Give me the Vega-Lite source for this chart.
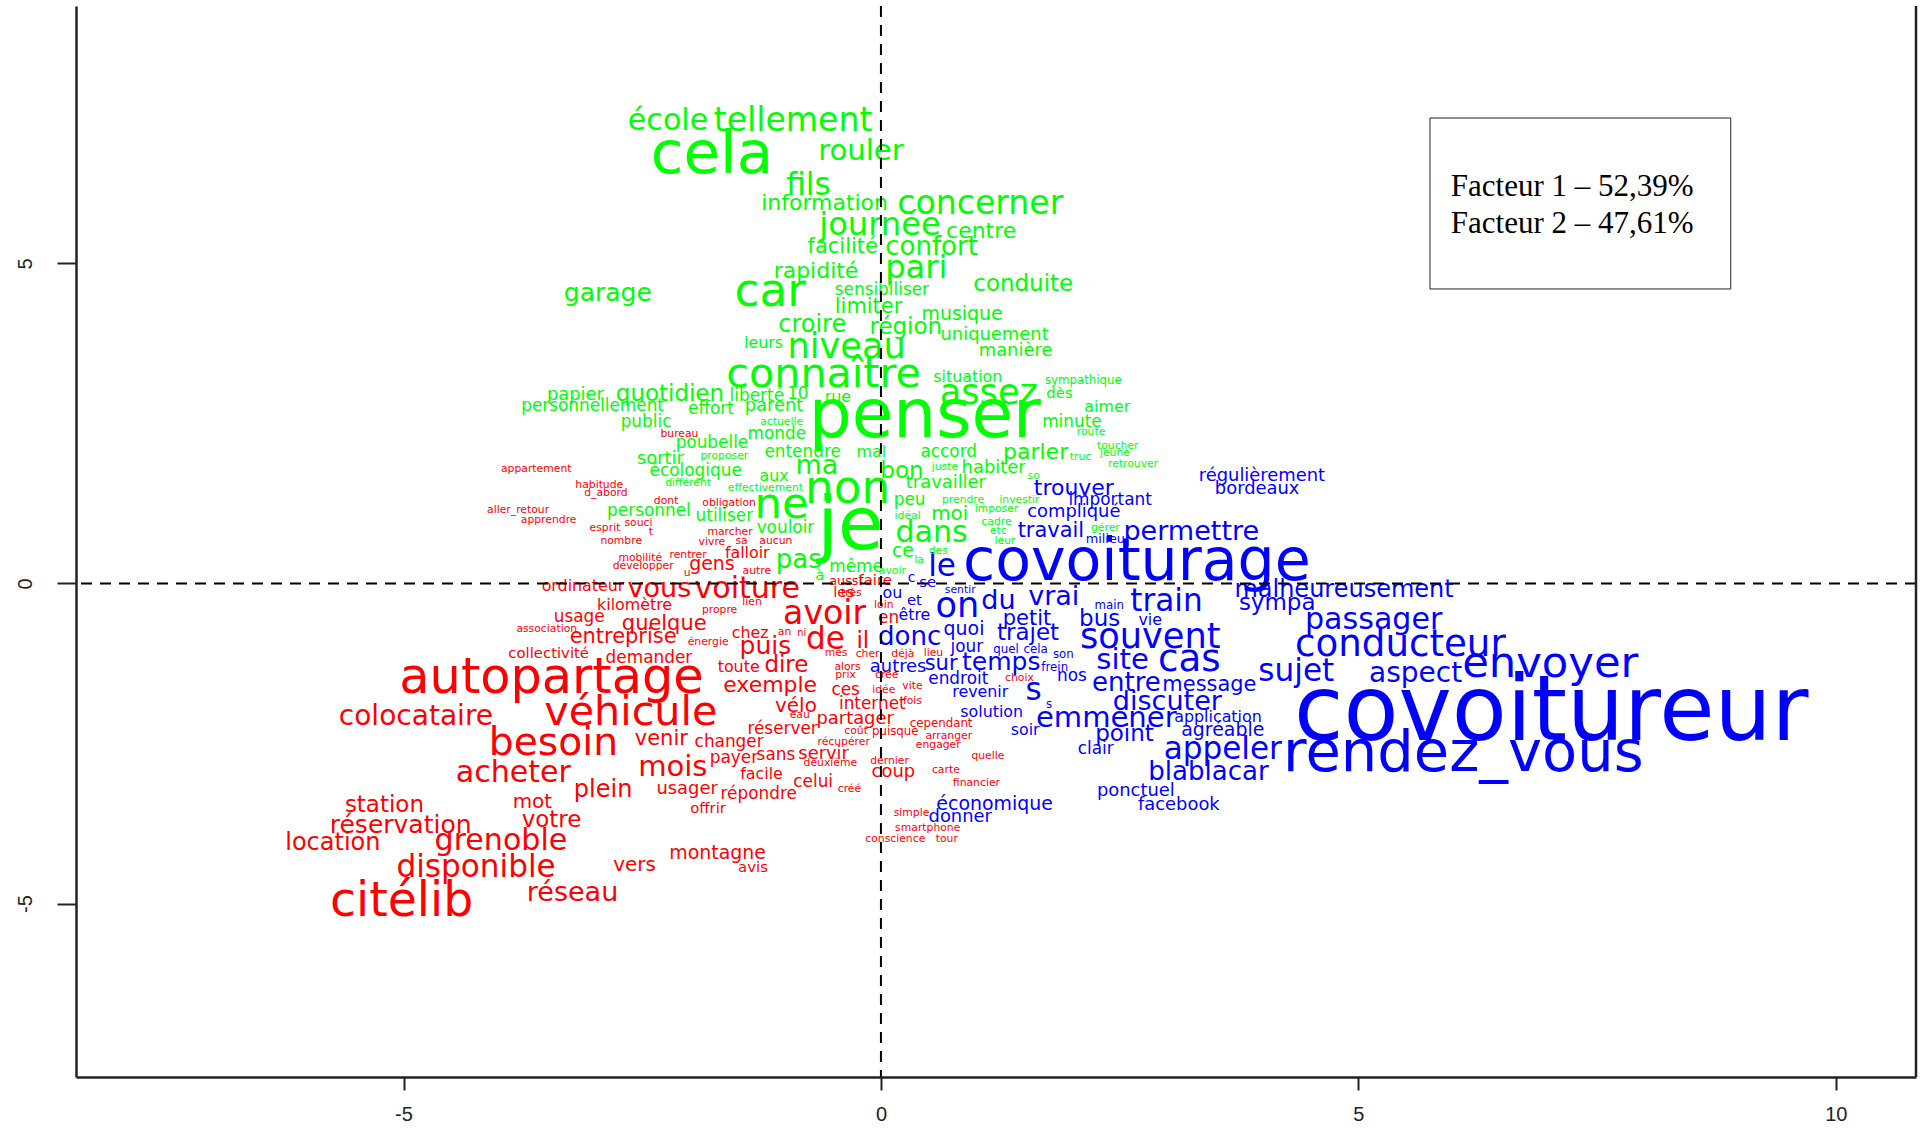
{"$schema":"https://vega.github.io/schema/vega-lite/v6.json","width":1840,"height":1071,"autosize":"none","padding":{"left":76,"top":6,"right":6,"bottom":51},"background":"white","config":{"view":{"stroke":null}},
"datasets":{"mots":[
{"m":"covoitureur","x":7.02,"y":-2.03,"s":86,"g":"b"},{"m":"covoiturage","x":2.68,"y":0.33,"s":55,"g":"b"},{"m":"rendez_vous","x":6.1,"y":-2.66,"s":54,"g":"b"},{"m":"envoyer","x":7.01,"y":-1.26,"s":40,"g":"b"},{"m":"conducteur","x":5.44,"y":-0.96,"s":34,"g":"b"},{"m":"passager","x":5.16,"y":-0.57,"s":27,"g":"b"},{"m":"malheureusement","x":4.85,"y":-0.1,"s":21,"g":"b"},{"m":"sympa","x":4.15,"y":-0.31,"s":20,"g":"b"},{"m":"sujet","x":4.35,"y":-1.38,"s":28,"g":"b"},{"m":"aspect","x":5.6,"y":-1.41,"s":25,"g":"b"},{"m":"permettre","x":3.25,"y":0.8,"s":24,"g":"b"},{"m":"régulièrement","x":3.99,"y":1.68,"s":15,"g":"b"},{"m":"bordeaux","x":3.94,"y":1.47,"s":15,"g":"b"},{"m":"train","x":2.99,"y":-0.29,"s":28,"g":"b"},{"m":"souvent","x":2.82,"y":-0.84,"s":32,"g":"b"},{"m":"site","x":2.53,"y":-1.2,"s":26,"g":"b"},{"m":"cas","x":3.23,"y":-1.19,"s":34,"g":"b"},{"m":"entre","x":2.57,"y":-1.55,"s":23,"g":"b"},{"m":"message","x":3.44,"y":-1.59,"s":18,"g":"b"},{"m":"discuter","x":3.0,"y":-1.85,"s":24,"g":"b"},{"m":"application","x":3.53,"y":-2.08,"s":13,"g":"b"},{"m":"emmener","x":2.36,"y":-2.1,"s":26,"g":"b"},{"m":"agréable","x":3.58,"y":-2.29,"s":16,"g":"b"},{"m":"point","x":2.55,"y":-2.35,"s":20,"g":"b"},{"m":"clair","x":2.25,"y":-2.58,"s":14,"g":"b"},{"m":"appeler","x":3.58,"y":-2.6,"s":28,"g":"b"},{"m":"blablacar","x":3.43,"y":-2.94,"s":23,"g":"b"},{"m":"ponctuel","x":2.67,"y":-3.25,"s":15,"g":"b"},{"m":"facebook","x":3.12,"y":-3.46,"s":15,"g":"b"},{"m":"économique","x":1.19,"y":-3.44,"s":16,"g":"b"},{"m":"donner","x":0.83,"y":-3.65,"s":15,"g":"b"},{"m":"le","x":0.64,"y":0.25,"s":28,"g":"b"},{"m":"trouver","x":2.02,"y":1.49,"s":19,"g":"b"},{"m":"important","x":2.4,"y":1.3,"s":14,"g":"b"},{"m":"compliqué","x":2.02,"y":1.11,"s":15,"g":"b"},{"m":"travail","x":1.78,"y":0.82,"s":18,"g":"b"},{"m":"milieu","x":2.35,"y":0.69,"s":10,"g":"b"},{"m":"vrai","x":1.81,"y":-0.21,"s":24,"g":"b"},{"m":"du","x":1.23,"y":-0.27,"s":24,"g":"b"},{"m":"on","x":0.8,"y":-0.36,"s":32,"g":"b"},{"m":"donc","x":0.3,"y":-0.84,"s":23,"g":"b"},{"m":"trajet","x":1.54,"y":-0.78,"s":20,"g":"b"},{"m":"petit","x":1.53,"y":-0.55,"s":18,"g":"b"},{"m":"bus","x":2.29,"y":-0.55,"s":20,"g":"b"},{"m":"vie","x":2.82,"y":-0.57,"s":13,"g":"b"},{"m":"main","x":2.39,"y":-0.33,"s":9,"g":"b"},{"m":"quoi","x":0.87,"y":-0.71,"s":16,"g":"b"},{"m":"jour","x":0.9,"y":-0.99,"s":14,"g":"b"},{"m":"quel","x":1.31,"y":-1.03,"s":9,"g":"b"},{"m":"cela","x":1.62,"y":-1.03,"s":9,"g":"b"},{"m":"son","x":1.91,"y":-1.11,"s":9,"g":"b"},{"m":"temps","x":1.26,"y":-1.22,"s":22,"g":"b"},{"m":"sur","x":0.63,"y":-1.26,"s":18,"g":"b"},{"m":"autres","x":0.18,"y":-1.3,"s":15,"g":"b"},{"m":"frein","x":1.82,"y":-1.3,"s":9,"g":"b"},{"m":"nos","x":2.0,"y":-1.45,"s":14,"g":"b"},{"m":"endroit","x":0.81,"y":-1.49,"s":14,"g":"b"},{"m":"revenir","x":1.04,"y":-1.7,"s":13,"g":"b"},{"m":"s","x":1.6,"y":-1.68,"s":28,"g":"b"},{"m":"s","x":1.76,"y":-1.89,"s":9,"g":"b"},{"m":"solution","x":1.16,"y":-2.01,"s":13,"g":"b"},{"m":"soir","x":1.51,"y":-2.29,"s":13,"g":"b"},{"m":"ou","x":0.12,"y":-0.15,"s":13,"g":"b"},{"m":"et","x":0.35,"y":-0.27,"s":12,"g":"b"},{"m":"être","x":0.35,"y":-0.5,"s":13,"g":"b"},{"m":"sentir","x":0.83,"y":-0.11,"s":8,"g":"b"},{"m":"c","x":0.32,"y":0.08,"s":11,"g":"b"},{"m":"se","x":0.49,"y":0.0,"s":12,"g":"b"},
{"m":"penser","x":0.46,"y":2.6,"s":64,"g":"v"},{"m":"je","x":-0.32,"y":0.88,"s":70,"g":"v"},{"m":"non","x":-0.35,"y":1.47,"s":42,"g":"v"},{"m":"ne","x":-1.04,"y":1.22,"s":40,"g":"v"},{"m":"cela","x":-1.77,"y":6.69,"s":56,"g":"v"},{"m":"connaître","x":-0.6,"y":3.25,"s":38,"g":"v"},{"m":"car","x":-1.16,"y":4.55,"s":42,"g":"v"},{"m":"niveau","x":-0.36,"y":3.69,"s":32,"g":"v"},{"m":"assez","x":1.13,"y":2.98,"s":32,"g":"v"},{"m":"école","x":-2.23,"y":7.23,"s":27,"g":"v"},{"m":"tellement","x":-0.92,"y":7.23,"s":30,"g":"v"},{"m":"rouler","x":-0.21,"y":6.75,"s":26,"g":"v"},{"m":"fils","x":-0.76,"y":6.21,"s":28,"g":"v"},{"m":"information","x":-0.59,"y":5.95,"s":19,"g":"v"},{"m":"concerner","x":1.04,"y":5.93,"s":30,"g":"v"},{"m":"journée","x":-0.01,"y":5.6,"s":29,"g":"v"},{"m":"centre","x":1.05,"y":5.51,"s":19,"g":"v"},{"m":"facilité","x":-0.4,"y":5.26,"s":18,"g":"v"},{"m":"confort","x":0.53,"y":5.26,"s":23,"g":"v"},{"m":"pari","x":0.37,"y":4.93,"s":29,"g":"v"},{"m":"rapidité","x":-0.68,"y":4.88,"s":19,"g":"v"},{"m":"conduite","x":1.49,"y":4.68,"s":20,"g":"v"},{"m":"sensibiliser","x":0.01,"y":4.59,"s":14,"g":"v"},{"m":"garage","x":-2.86,"y":4.53,"s":22,"g":"v"},{"m":"limiter","x":-0.13,"y":4.32,"s":18,"g":"v"},{"m":"musique","x":0.85,"y":4.21,"s":16,"g":"v"},{"m":"croire","x":-0.72,"y":4.03,"s":21,"g":"v"},{"m":"région","x":0.26,"y":4.0,"s":20,"g":"v"},{"m":"uniquement","x":1.19,"y":3.88,"s":15,"g":"v"},{"m":"leurs","x":-1.23,"y":3.75,"s":13,"g":"v"},{"m":"manière","x":1.41,"y":3.63,"s":15,"g":"v"},{"m":"situation","x":0.91,"y":3.23,"s":13,"g":"v"},{"m":"sympathique","x":2.12,"y":3.17,"s":9,"g":"v"},{"m":"papier","x":-3.2,"y":2.94,"s":15,"g":"v"},{"m":"quotidien","x":-2.21,"y":2.96,"s":20,"g":"v"},{"m":"liberté","x":-1.3,"y":2.93,"s":14,"g":"v"},{"m":"10","x":-0.87,"y":2.96,"s":14,"g":"v"},{"m":"rue","x":-0.45,"y":2.91,"s":13,"g":"v"},{"m":"dès","x":1.87,"y":2.96,"s":12,"g":"v"},{"m":"personnellement","x":-3.02,"y":2.77,"s":14,"g":"v"},{"m":"effort","x":-1.78,"y":2.72,"s":14,"g":"v"},{"m":"parent","x":-1.12,"y":2.77,"s":15,"g":"v"},{"m":"aimer","x":2.37,"y":2.75,"s":13,"g":"v"},{"m":"public","x":-2.46,"y":2.52,"s":14,"g":"v"},{"m":"minute","x":2.0,"y":2.52,"s":14,"g":"v"},{"m":"actuelle","x":-1.04,"y":2.52,"s":8,"g":"v"},{"m":"monde","x":-1.09,"y":2.33,"s":14,"g":"v"},{"m":"poubelle","x":-1.77,"y":2.2,"s":14,"g":"v"},{"m":"route","x":2.2,"y":2.37,"s":8,"g":"v"},{"m":"entendre","x":-0.82,"y":2.06,"s":14,"g":"v"},{"m":"mal","x":-0.1,"y":2.06,"s":13,"g":"v"},{"m":"accord","x":0.71,"y":2.06,"s":14,"g":"v"},{"m":"parler","x":1.62,"y":2.05,"s":19,"g":"v"},{"m":"truc","x":2.09,"y":1.97,"s":8,"g":"v"},{"m":"toucher","x":2.48,"y":2.14,"s":8,"g":"v"},{"m":"jeune","x":2.45,"y":2.03,"s":8,"g":"v"},{"m":"retrouver","x":2.64,"y":1.87,"s":8,"g":"v"},{"m":"sortir","x":-2.31,"y":1.95,"s":15,"g":"v"},{"m":"proposer","x":-1.64,"y":1.99,"s":8,"g":"v"},{"m":"écologique","x":-1.94,"y":1.76,"s":14,"g":"v"},{"m":"ma","x":-0.67,"y":1.84,"s":24,"g":"v"},{"m":"aux","x":-1.12,"y":1.68,"s":13,"g":"v"},{"m":"bon","x":0.22,"y":1.76,"s":20,"g":"v"},{"m":"juste","x":0.67,"y":1.82,"s":8,"g":"v"},{"m":"habiter","x":1.18,"y":1.8,"s":15,"g":"v"},{"m":"so","x":1.6,"y":1.68,"s":8,"g":"v"},{"m":"différent","x":-2.02,"y":1.57,"s":8,"g":"v"},{"m":"effectivement","x":-1.21,"y":1.49,"s":8,"g":"v"},{"m":"travailler","x":0.68,"y":1.57,"s":15,"g":"v"},{"m":"peu","x":0.3,"y":1.3,"s":14,"g":"v"},{"m":"prendre","x":0.86,"y":1.3,"s":8,"g":"v"},{"m":"investir","x":1.45,"y":1.3,"s":8,"g":"v"},{"m":"personnel","x":-2.43,"y":1.13,"s":14,"g":"v"},{"m":"utiliser","x":-1.64,"y":1.05,"s":14,"g":"v"},{"m":"vouloir","x":-1.0,"y":0.86,"s":14,"g":"v"},{"m":"idéal","x":0.28,"y":1.05,"s":8,"g":"v"},{"m":"moi","x":0.72,"y":1.09,"s":17,"g":"v"},{"m":"imposer","x":1.21,"y":1.17,"s":8,"g":"v"},{"m":"cadre","x":1.21,"y":0.96,"s":8,"g":"v"},{"m":"dans","x":0.53,"y":0.78,"s":27,"g":"v"},{"m":"etc","x":1.23,"y":0.82,"s":8,"g":"v"},{"m":"leur","x":1.3,"y":0.67,"s":8,"g":"v"},{"m":"gérer","x":2.35,"y":0.86,"s":8,"g":"v"},{"m":"ce","x":0.23,"y":0.5,"s":16,"g":"v"},{"m":"des","x":0.6,"y":0.5,"s":8,"g":"v"},{"m":"la","x":0.4,"y":0.36,"s":8,"g":"v"},{"m":"avoir","x":0.12,"y":0.19,"s":8,"g":"v"},{"m":"pas","x":-0.86,"y":0.36,"s":23,"g":"v"},{"m":"même","x":-0.26,"y":0.25,"s":14,"g":"v"},{"m":"à","x":-0.64,"y":0.11,"s":12,"g":"v"},
{"m":"citélib","x":-5.02,"y":-4.97,"s":44,"g":"r"},{"m":"autopartage","x":-3.45,"y":-1.47,"s":46,"g":"r"},{"m":"véhicule","x":-2.62,"y":-2.03,"s":38,"g":"r"},{"m":"besoin","x":-3.43,"y":-2.49,"s":36,"g":"r"},{"m":"colocataire","x":-4.87,"y":-2.08,"s":25,"g":"r"},{"m":"acheter","x":-3.85,"y":-2.96,"s":27,"g":"r"},{"m":"mois","x":-2.18,"y":-2.87,"s":26,"g":"r"},{"m":"plein","x":-2.91,"y":-3.23,"s":21,"g":"r"},{"m":"station","x":-5.2,"y":-3.46,"s":20,"g":"r"},{"m":"mot","x":-3.65,"y":-3.42,"s":17,"g":"r"},{"m":"réservation","x":-5.03,"y":-3.77,"s":22,"g":"r"},{"m":"votre","x":-3.45,"y":-3.69,"s":20,"g":"r"},{"m":"location","x":-5.74,"y":-4.05,"s":21,"g":"r"},{"m":"grenoble","x":-3.98,"y":-4.02,"s":27,"g":"r"},{"m":"disponible","x":-4.24,"y":-4.44,"s":28,"g":"r"},{"m":"vers","x":-2.58,"y":-4.4,"s":17,"g":"r"},{"m":"réseau","x":-3.23,"y":-4.84,"s":24,"g":"r"},{"m":"montagne","x":-1.71,"y":-4.21,"s":16,"g":"r"},{"m":"avis","x":-1.34,"y":-4.44,"s":12,"g":"r"},{"m":"offrir","x":-1.81,"y":-3.52,"s":12,"g":"r"},{"m":"usager","x":-2.03,"y":-3.21,"s":15,"g":"r"},{"m":"répondre","x":-1.28,"y":-3.29,"s":14,"g":"r"},{"m":"celui","x":-0.71,"y":-3.1,"s":14,"g":"r"},{"m":"facile","x":-1.25,"y":-2.98,"s":13,"g":"r"},{"m":"créé","x":-0.33,"y":-3.21,"s":8,"g":"r"},{"m":"payer","x":-1.54,"y":-2.73,"s":14,"g":"r"},{"m":"sans","x":-1.1,"y":-2.68,"s":14,"g":"r"},{"m":"servir","x":-0.6,"y":-2.66,"s":15,"g":"r"},{"m":"deuxième","x":-0.53,"y":-2.81,"s":8,"g":"r"},{"m":"dernier","x":0.09,"y":-2.77,"s":8,"g":"r"},{"m":"coup","x":0.13,"y":-2.94,"s":15,"g":"r"},{"m":"carte","x":0.68,"y":-2.91,"s":8,"g":"r"},{"m":"quelle","x":1.12,"y":-2.7,"s":8,"g":"r"},{"m":"financier","x":1.0,"y":-3.12,"s":8,"g":"r"},{"m":"simple","x":0.32,"y":-3.59,"s":8,"g":"r"},{"m":"smartphone","x":0.49,"y":-3.82,"s":8,"g":"r"},{"m":"conscience","x":0.15,"y":-4.0,"s":8,"g":"r"},{"m":"tour","x":0.69,"y":-4.0,"s":8,"g":"r"},{"m":"récupérer","x":-0.39,"y":-2.47,"s":8,"g":"r"},{"m":"coût","x":-0.26,"y":-2.31,"s":8,"g":"r"},{"m":"puisque","x":0.15,"y":-2.31,"s":9,"g":"r"},{"m":"arranger","x":0.71,"y":-2.39,"s":8,"g":"r"},{"m":"engager","x":0.6,"y":-2.52,"s":8,"g":"r"},{"m":"cependant","x":0.63,"y":-2.18,"s":9,"g":"r"},{"m":"partager","x":-0.27,"y":-2.12,"s":15,"g":"r"},{"m":"internet","x":-0.09,"y":-1.89,"s":14,"g":"r"},{"m":"réserver","x":-1.03,"y":-2.28,"s":14,"g":"r"},{"m":"changer","x":-1.59,"y":-2.47,"s":14,"g":"r"},{"m":"venir","x":-2.3,"y":-2.43,"s":18,"g":"r"},{"m":"vélo","x":-0.89,"y":-1.91,"s":17,"g":"r"},{"m":"exemple","x":-1.16,"y":-1.59,"s":19,"g":"r"},{"m":"toute","x":-1.49,"y":-1.3,"s":13,"g":"r"},{"m":"dire","x":-0.99,"y":-1.28,"s":20,"g":"r"},{"m":"puis","x":-1.21,"y":-0.98,"s":22,"g":"r"},{"m":"chez","x":-1.37,"y":-0.78,"s":13,"g":"r"},{"m":"de","x":-0.58,"y":-0.88,"s":28,"g":"r"},{"m":"il","x":-0.19,"y":-0.9,"s":20,"g":"r"},{"m":"avoir","x":-0.59,"y":-0.48,"s":30,"g":"r"},{"m":"voiture","x":-1.4,"y":-0.08,"s":27,"g":"r"},{"m":"vous","x":-2.32,"y":-0.08,"s":24,"g":"r"},{"m":"ordinateur","x":-3.12,"y":-0.04,"s":13,"g":"r"},{"m":"les","x":-0.39,"y":-0.15,"s":12,"g":"r"},{"m":"kilomètre","x":-2.58,"y":-0.33,"s":13,"g":"r"},{"m":"quelque","x":-2.27,"y":-0.63,"s":18,"g":"r"},{"m":"usage","x":-3.16,"y":-0.52,"s":14,"g":"r"},{"m":"association","x":-3.5,"y":-0.71,"s":8,"g":"r"},{"m":"entreprise","x":-2.7,"y":-0.84,"s":18,"g":"r"},{"m":"collectivité","x":-3.48,"y":-1.11,"s":12,"g":"r"},{"m":"demander","x":-2.43,"y":-1.17,"s":14,"g":"r"},{"m":"énergie","x":-1.81,"y":-0.92,"s":8,"g":"r"},{"m":"propre","x":-1.69,"y":-0.42,"s":8,"g":"r"},{"m":"lien","x":-1.35,"y":-0.29,"s":8,"g":"r"},{"m":"an","x":-1.01,"y":-0.76,"s":8,"g":"r"},{"m":"ni","x":-0.83,"y":-0.78,"s":7,"g":"r"},{"m":"mes","x":-0.47,"y":-1.09,"s":8,"g":"r"},{"m":"cher","x":-0.14,"y":-1.11,"s":8,"g":"r"},{"m":"déjà","x":0.23,"y":-1.11,"s":8,"g":"r"},{"m":"lieu","x":0.55,"y":-1.09,"s":8,"g":"r"},{"m":"alors","x":-0.35,"y":-1.3,"s":8,"g":"r"},{"m":"prix","x":-0.37,"y":-1.43,"s":8,"g":"r"},{"m":"crée","x":0.06,"y":-1.43,"s":8,"g":"r"},{"m":"ces","x":-0.37,"y":-1.66,"s":14,"g":"r"},{"m":"idée","x":0.03,"y":-1.66,"s":8,"g":"r"},{"m":"vite","x":0.33,"y":-1.61,"s":8,"g":"r"},{"m":"fois","x":0.33,"y":-1.84,"s":8,"g":"r"},{"m":"eau","x":-0.85,"y":-2.06,"s":8,"g":"r"},{"m":"choix","x":1.45,"y":-1.47,"s":8,"g":"r"},{"m":"gens","x":-1.77,"y":0.31,"s":16,"g":"r"},{"m":"falloir","x":-1.4,"y":0.48,"s":13,"g":"r"},{"m":"marcher","x":-1.58,"y":0.8,"s":8,"g":"r"},{"m":"obligation","x":-1.59,"y":1.26,"s":8,"g":"r"},{"m":"dont","x":-2.25,"y":1.28,"s":8,"g":"r"},{"m":"appartement","x":-3.61,"y":1.78,"s":8,"g":"r"},{"m":"habitude","x":-2.95,"y":1.53,"s":8,"g":"r"},{"m":"d_abord","x":-2.88,"y":1.41,"s":8,"g":"r"},{"m":"aller_retour","x":-3.8,"y":1.15,"s":8,"g":"r"},{"m":"apprendre","x":-3.48,"y":0.99,"s":8,"g":"r"},{"m":"souci","x":-2.54,"y":0.94,"s":8,"g":"r"},{"m":"esprit","x":-2.89,"y":0.86,"s":8,"g":"r"},{"m":"t","x":-2.41,"y":0.8,"s":8,"g":"r"},{"m":"nombre","x":-2.72,"y":0.67,"s":8,"g":"r"},{"m":"vivre","x":-1.77,"y":0.65,"s":8,"g":"r"},{"m":"sa","x":-1.46,"y":0.67,"s":8,"g":"r"},{"m":"aucun","x":-1.1,"y":0.67,"s":8,"g":"r"},{"m":"mobilité","x":-2.52,"y":0.4,"s":8,"g":"r"},{"m":"rentrer","x":-2.02,"y":0.44,"s":8,"g":"r"},{"m":"développer","x":-2.49,"y":0.27,"s":8,"g":"r"},{"m":"autre","x":-1.3,"y":0.19,"s":8,"g":"r"},{"m":"u","x":-2.03,"y":0.17,"s":8,"g":"r"},{"m":"bureau","x":-2.11,"y":2.33,"s":8,"g":"r"},{"m":"aussi","x":-0.37,"y":0.04,"s":10,"g":"r"},{"m":"faire","x":-0.06,"y":0.04,"s":12,"g":"r"},{"m":"très","x":-0.31,"y":-0.15,"s":8,"g":"r"},{"m":"loin","x":0.03,"y":-0.34,"s":8,"g":"r"},{"m":"en","x":0.08,"y":-0.54,"s":14,"g":"r"}
],"boite":[{"x":5.75,"x2":8.9,"y":4.6,"y2":7.27}],"facteurs":[{"t":"Facteur 1 – 52,39%","x":7.24,"y":6.19},{"t":"Facteur 2 – 47,61%","x":7.24,"y":5.62}]},
"layer":[
{"data":{"name":"mots"},"mark":{"type":"text","font":"DejaVu Sans","baseline":"middle","align":"center"},"encoding":{"x":{"field":"x","type":"quantitative","scale":{"domain":[-8.43,10.84],"nice":false,"zero":false},"axis":{"values":[-5,0,5,10],"labelExpr":"'' + datum.value","grid":false,"title":null,"domainColor":"#222222","domainWidth":2.5,"tickColor":"#222222","tickWidth":2,"tickSize":13,"labelColor":"#222222","labelFont":"Liberation Sans","labelFontSize":20,"labelPadding":14}},"y":{"field":"y","type":"quantitative","scale":{"domain":[-7.71,9.02],"nice":false,"zero":false},"axis":{"values":[-5,0,5],"labelExpr":"'' + datum.value","grid":false,"title":null,"domainColor":"#222222","domainWidth":2.5,"tickColor":"#222222","tickWidth":2,"tickSize":19,"labelColor":"#222222","labelFont":"Liberation Sans","labelFontSize":20,"labelAngle":-90,"labelAlign":"center","labelBaseline":"bottom","labelPadding":22}},"text":{"field":"m","type":"nominal"},"size":{"field":"s","type":"quantitative","scale":{"type":"linear","domain":[8,86],"range":[10.8,90],"zero":false},"legend":null},"color":{"field":"g","type":"nominal","scale":{"domain":["r","v","b"],"range":["#ff0000","#00ff00","#0000ff"]},"legend":null}}},
{"data":{"values":[{"v":0}]},"mark":{"type":"rule","color":"black","strokeWidth":2,"strokeDash":[11,8]},"encoding":{"x":{"field":"v","type":"quantitative"}}},
{"data":{"values":[{"v":0}]},"mark":{"type":"rule","color":"black","strokeWidth":2,"strokeDash":[11,8]},"encoding":{"y":{"field":"v","type":"quantitative"}}},
{"data":{"values":[{"v":10.84}]},"mark":{"type":"rule","color":"#222222","strokeWidth":2.5},"encoding":{"x":{"field":"v","type":"quantitative"}}},
{"data":{"name":"boite"},"mark":{"type":"rect","fill":"white","stroke":"#222222","strokeWidth":1},"encoding":{"x":{"field":"x","type":"quantitative"},"x2":{"field":"x2"},"y":{"field":"y","type":"quantitative"},"y2":{"field":"y2"}}},
{"data":{"name":"facteurs"},"mark":{"type":"text","font":"Liberation Serif","fontSize":31,"color":"black","baseline":"middle","align":"center"},"encoding":{"x":{"field":"x","type":"quantitative"},"y":{"field":"y","type":"quantitative"},"text":{"field":"t","type":"nominal"}}}
]}
